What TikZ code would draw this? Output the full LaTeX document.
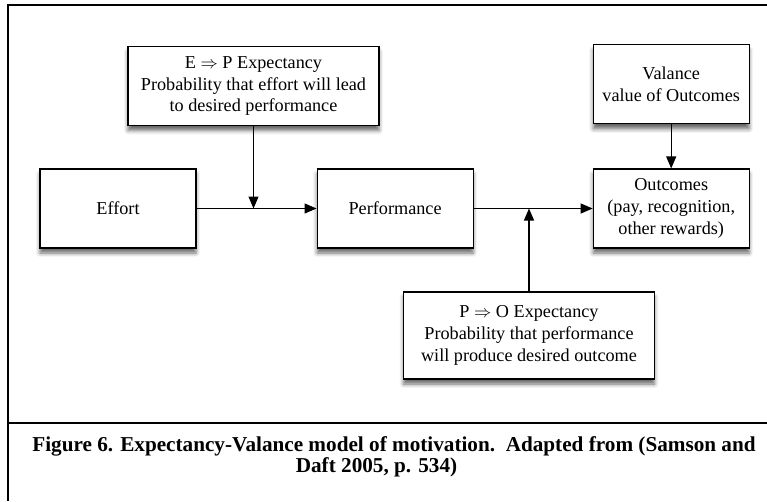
\documentclass[tikz,border=0pt]{standalone}
\usepackage{fontspec}
\setmainfont{Liberation Serif}
\usetikzlibrary{positioning, arrows.meta, shadows.blur}
\tikzset{
>={Triangle[length=12pt, width=10pt]}, % solid arrow heads
node distance=120pt, % gap between boxes in a row
box/.style={draw=black, line width=1.1pt, fill=white, align=center, % every box of the model
  minimum width=156pt, minimum height=79pt, inner sep=2pt,
  font=\fontsize{18.2}{21.7}\selectfont,
  blur shadow={shadow xshift=0pt, shadow yshift=-5pt, shadow blur radius=4pt, shadow opacity=60}},
wide/.append style={box, minimum width=251pt}, % the two expectancy boxes
link/.style={->, line width=1.1pt}, % connectors
}

\begin{document}
\begin{tikzpicture}[x=1pt, y=-1pt]
      \useasboundingbox (0,0) rectangle (767,501);
      % frame and caption rule
      \draw[line width=2.4pt] (8,501) -- (8,5) -- (767,5);
      \draw[line width=2.4pt] (8,423) -- (767,423);

      \node[box] (effort) at (118,208.5) {Effort};
      \node[box, right=of effort] (perf) {Performance};
      \node[box, right=119pt of perf] (outcomes) {Outcomes\\(pay, recognition,\\other rewards)};
      \node[box, above=44pt of outcomes] (valance) {Valance\\value of Outcomes};
      \node[wide] (ep) at (253.5,86) {E $\Rightarrow$ P Expectancy\\Probability that effort will lead\\to desired performance};
      \node[wide, minimum height=87pt] (po) at (529,335.5) {P $\Rightarrow$ O Expectancy\\Probability that performance\\will produce desired outcome};

      \draw[link] (effort) -- (perf);
      \draw[link] (perf) -- (outcomes);
      \draw[link] (ep) -- (ep |- effort);
      \draw[link] (po) -- (po |- perf);
      \draw[link] (valance) -- (outcomes);

      \node[font=\bfseries\fontsize{21.2}{15.5}\selectfont, align=center] (caption) at (394,457)
        {Figure 6. Expectancy-Valance model of motivation.\ \ Adapted from (Samson and\\Daft 2005, p. 534)\hspace*{35pt}};
    \end{tikzpicture}
\end{document}
